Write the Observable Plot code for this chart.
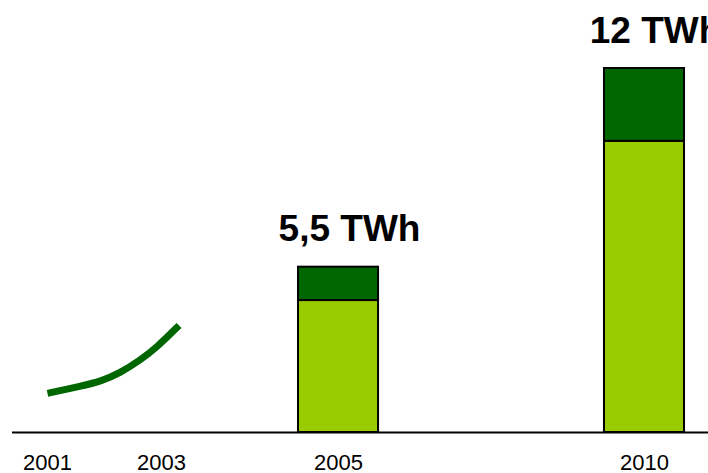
<!DOCTYPE html>
<html>
<head>
<meta charset="utf-8">
<script src="https://cdn.jsdelivr.net/npm/d3@7"></script>
<script src="https://cdn.jsdelivr.net/npm/@observablehq/plot@0.6"></script>
<style>
  html, body { margin: 0; padding: 0; background: #fff; }
  #chart svg { display: block; }
</style>
</head>
<body>
<div id="chart"></div>
<script>
// Bars (years, light part, dark part, label)
const barYears = [2005, 2010];
const lightValues = [4.35, 9.6];
const darkValues = [1.1, 2.4];
const barLabels = ["5,5 TWh", "12 TWh"];

// Growth line 2001–2003
const lineYears = [2001, 2001.58, 2001.93, 2002.28, 2002.63, 2002.92, 2003.17];
const lineValues = [1.29, 1.53, 1.68, 1.97, 2.39, 2.81, 3.53];

// Tick labels
const tickYears = [2001, 2003, 2005, 2010];

const light = "#99CC00";
const dark = "#006600";
const halfWidth = 0.654; // bar half-width in years

const bars = barYears.map((year, i) => ({
  year, light: lightValues[i], dark: darkValues[i],
  total: lightValues[i] + darkValues[i], label: barLabels[i]
}));
const line = lineYears.map((year, i) => ({year, value: lineValues[i]}));

const chart = Plot.plot({
  width: 708,
  height: 473,
  marginLeft: 12,
  marginRight: 0,
  marginTop: 0,
  marginBottom: 41,
  style: {fontFamily: "'Liberation Sans', Arial, sans-serif", background: "#fff", overflow: "visible"},
  x: {type: "linear", domain: [2001, 2003, 2004.3, 2010], range: [47, 161, 295.2, 644], axis: null},
  y: {domain: [0, 12], range: [432, 68], axis: null},
  marks: [
    Plot.rectY(bars, {x1: d => d.year - halfWidth, x2: d => d.year + halfWidth, y1: 0, y2: "light",
      fill: light, stroke: "#000", strokeWidth: 2}),
    Plot.rectY(bars, {x1: d => d.year - halfWidth, x2: d => d.year + halfWidth, y1: "light", y2: "total",
      fill: dark, stroke: "#000", strokeWidth: 2}),
    Plot.ruleY([0], {stroke: "#000", strokeWidth: 2}),
    Plot.line(line, {x: "year", y: "value", stroke: dark, strokeWidth: 7, curve: "basis", strokeLinecap: "butt"}),
    Plot.text(bars, {x: "year", y: "total", text: "label", dx: 11, dy: -26, lineAnchor: "bottom",
      fontSize: 37, fontWeight: "bold", fill: "#000"}),
    Plot.text(tickYears, {x: d => d, y: 0, text: d => String(d), dy: 37, lineAnchor: "bottom",
      fontSize: 22, fill: "#000"})
  ]
});
document.getElementById("chart").append(chart);
</script>
</body>
</html>
